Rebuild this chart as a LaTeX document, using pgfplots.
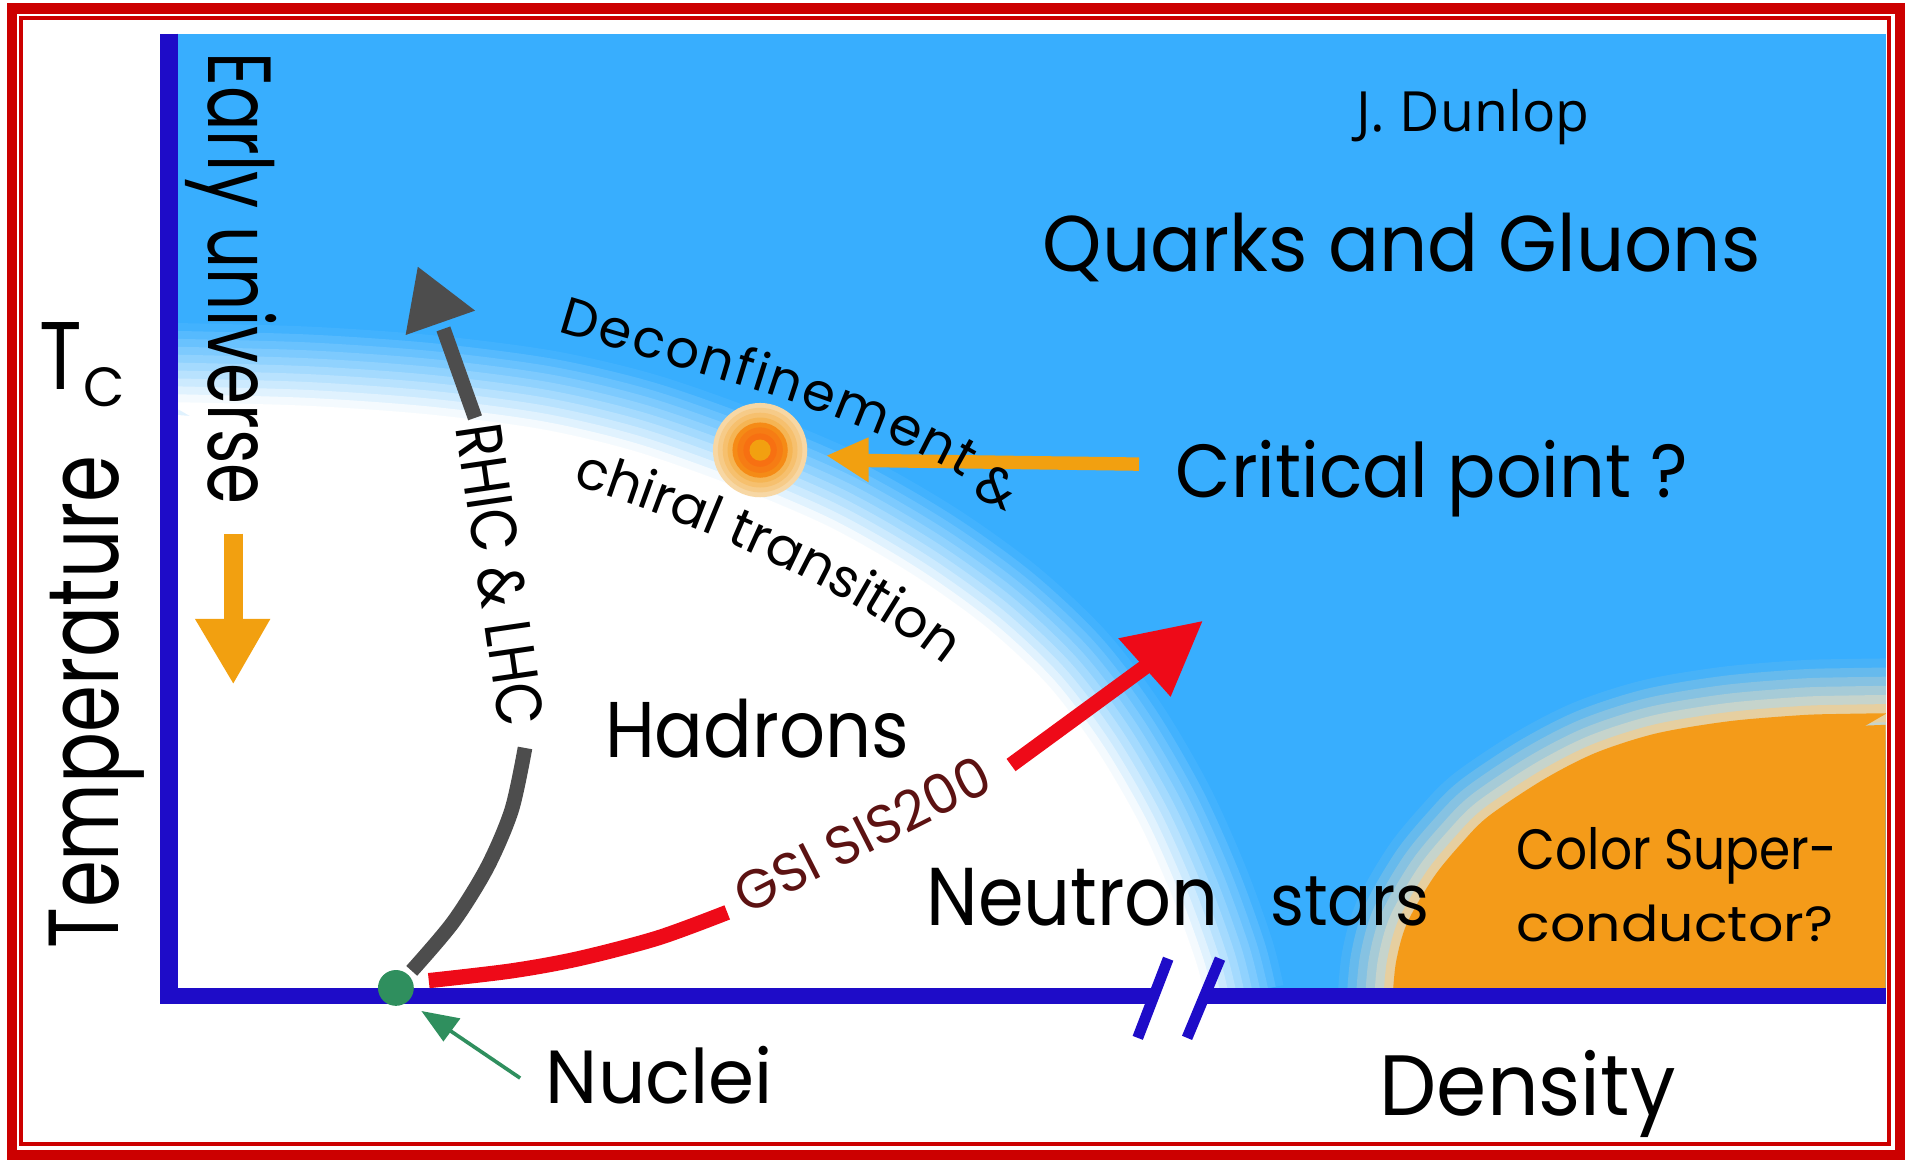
\documentclass[border=0pt]{standalone}
\usepackage{graphicx}
\usepackage{pgfplots}
\usepackage{pgfplotstable}
\pgfplotsset{compat=1.18}
\usepackage{fontspec}
\setmainfont{Poppins}
\newfontfamily\pop{Poppins}
\newfontfamily\osans{Open Sans}
\usetikzlibrary{decorations.text}
\definecolor{skyb}{HTML}{38AEFE}
\definecolor{axb}{HTML}{1E0CC8}
\definecolor{framered}{HTML}{CC0000}
\definecolor{orreg}{HTML}{F49B19}
\definecolor{oarrow}{HTML}{F2A010}
\definecolor{garrow}{HTML}{4D4D4D}
\definecolor{rarrow}{HTML}{EE0A18}
\definecolor{gdot}{HTML}{2F8F5E}
\definecolor{gsired}{HTML}{5C1212}
\definecolor{cream}{HTML}{F7E2BC}
\newcommand{\fit}[3]{\resizebox{#1mm}{#2mm}{\pop #3}}

\pgfplotstableread{
x y
136 330
250 333
350 340
443 352
520 370
600 398
680 432
750 472
810 515
860 562
900 615
935 675
962 735
982 790
990 822
}\Wcurve

\pgfplotstableread{
x y
1143 822
1146 790
1155 758
1177 720
1200 692
1222 670
1267 640
1310 618
1360 602
1420 592
1480 587
1515 586
1549 585.5
}\Ocurve

\begin{document}
\begin{tikzpicture}
\begin{axis}[width=156.8mm, height=95.4mm, scale only axis,
  xmin=0, xmax=1568, ymin=0, ymax=954, y dir=reverse, hide axis, clip=true]

% background and regions
\addplot[fill=white, draw=none] coordinates {(0,0) (1568,0) (1568,954) (0,954)};
\addplot[fill=skyb, draw=none] coordinates {(140,27.5) (1548,27.5) (1548,818) (140,818)};

% colour superconductor region (soft edge, then solid fill)
\addplot[smooth, draw=cream, line width=9.0mm, opacity=0.083] table {\Ocurve};
\addplot[smooth, draw=cream, line width=7.5mm, opacity=0.182] table {\Ocurve};
\addplot[smooth, draw=cream, line width=6.0mm, opacity=0.222] table {\Ocurve};
\addplot[smooth, draw=cream, line width=4.5mm, opacity=0.286] table {\Ocurve};
\addplot[smooth, draw=cream, line width=3.0mm, opacity=0.40] table {\Ocurve};
\addplot[smooth, draw=cream!70!orreg, line width=1.5mm, opacity=0.667] table {\Ocurve};
\addplot[fill=orreg, draw=none] coordinates {(1150,822) (1160,760) (1200,700) (1300,630) (1420,600) (1548,595) (1548,822)};
\addplot[fill=orreg, draw=none, smooth] table {\Ocurve};
\addplot[fill=white, draw=none] coordinates {(1548.3,0) (1568,0) (1568,954) (1548.3,954)};

% hadron region (solid white, then linear soft glow outward)
\addplot[fill=white, draw=none] coordinates {(136,340) (443,362) (680,445) (860,575) (955,740) (985,822) (136,822)};
\addplot[fill=white, draw=none, smooth] table {\Wcurve};
\addplot[smooth, draw=white, line width=13mm, opacity=0.050] table {\Wcurve};
\addplot[smooth, draw=white, line width=11.7mm, opacity=0.105] table {\Wcurve};
\addplot[smooth, draw=white, line width=10.4mm, opacity=0.118] table {\Wcurve};
\addplot[smooth, draw=white, line width=9.1mm, opacity=0.133] table {\Wcurve};
\addplot[smooth, draw=white, line width=7.8mm, opacity=0.154] table {\Wcurve};
\addplot[smooth, draw=white, line width=6.5mm, opacity=0.182] table {\Wcurve};
\addplot[smooth, draw=white, line width=5.2mm, opacity=0.222] table {\Wcurve};
\addplot[smooth, draw=white, line width=3.9mm, opacity=0.286] table {\Wcurve};
\addplot[smooth, draw=white, line width=2.6mm, opacity=0.400] table {\Wcurve};
\addplot[smooth, draw=white, line width=1.3mm, opacity=0.667] table {\Wcurve};

% axes
\addplot[draw=axb, line width=1.45mm] coordinates {(139,27.5) (139,824)};
\addplot[draw=axb, line width=1.3mm] coordinates {(132,817.5) (947,817.5)};
\addplot[draw=axb, line width=1.3mm] coordinates {(989,817.5) (1548.5,817.5)};
\addplot[draw=axb, line width=0.9mm] coordinates {(934,852) (959,787)};
\addplot[draw=axb, line width=0.9mm] coordinates {(974.5,852) (1001.6,787)};

% critical point
\addplot[only marks, mark=*, mark size=3.8mm, color=cream!85!orreg] coordinates {(624,369.5)};
\addplot[only marks, mark=*, mark size=3.4mm, color=cream!68!orreg] coordinates {(624,369.5)};
\addplot[only marks, mark=*, mark size=3.0mm, color=cream!52!orreg] coordinates {(624,369.5)};
\addplot[only marks, mark=*, mark size=2.6mm, color=cream!36!orreg] coordinates {(624,369.5)};
\addplot[only marks, mark=*, mark size=2.2mm, color=orreg!90!red] coordinates {(624,369.5)};
\addplot[only marks, mark=*, mark size=1.8mm, color=orreg!80!red] coordinates {(624,369.5)};
\addplot[only marks, mark=*, mark size=1.3mm, color=orreg!72!red] coordinates {(624,369.5)};
\addplot[only marks, mark=*, mark size=0.8mm, color=oarrow] coordinates {(624,369.5)};

% arrows
\addplot[smooth, draw=garrow, line width=1.2mm] coordinates {(338,797) (372,757) (400,712) (420,665) (431,614)};
\addplot[draw=garrow, line width=1.2mm] coordinates {(390,343) (364,270)};
\addplot[fill=garrow, draw=none] coordinates {(343,219) (333,275) (390,255)};

\addplot[smooth, draw=rarrow, line width=1.25mm] coordinates {(352,805) (420,797) (475,787) (540,770) (597,749)};
\addplot[draw=rarrow, line width=1.25mm] coordinates {(830,628) (942,546)};
\addplot[fill=rarrow, draw=none] coordinates {(987,510) (918,524) (961,572)};

\addplot[draw=oarrow, line width=1.1mm] coordinates {(935,381) (710,378)};
\addplot[fill=oarrow, draw=none] coordinates {(679,374) (713,359) (713,396)};

\addplot[draw=oarrow, line width=1.6mm] coordinates {(191.5,438) (191.5,510)};
\addplot[fill=oarrow, draw=none] coordinates {(191.5,561) (160,508) (222,508)};

\addplot[draw=gdot, line width=0.3mm] coordinates {(427,885) (365,843)};
\addplot[fill=gdot, draw=none] coordinates {(346,830) (378,836) (364,855)};
\addplot[only marks, mark=*, mark size=1.4mm, color=gdot] coordinates {(325,811)};

% frame
\addplot[draw=framered, line width=0.85mm, line cap=rect] coordinates {(9.75,6.9) (1559.5,6.9) (1559.5,948) (9.75,948) (9.75,6.9)};
\addplot[draw=framered, line width=0.3mm, line cap=rect] coordinates {(17,15) (1551,15) (1551,939) (17,939) (17,15)};

% texts
\node[anchor=base west, inner sep=0pt] at (1112.5,107.6) {\resizebox{19.15mm}{3.46mm}{\osans J. Dunlop}};
\node[anchor=base west, inner sep=0pt] at (855.5,223) {\fit{58.9}{4.8}{Quarks and Gluons}};
\node[anchor=base west, inner sep=0pt] at (964.6,408) {\fit{42.04}{4.7}{Critical point ?}};
\node[anchor=base west, inner sep=0pt] at (496,621.5) {\fit{24.96}{4.8}{Hadrons}};
\node[anchor=base west, inner sep=0pt] at (760,759.5) {\fit{24.0}{4.7}{Neutron}};
\node[anchor=base west, inner sep=0pt] at (1042,759.5) {\fit{13.1}{4.0}{stars}};
\node[anchor=base west, inner sep=0pt] at (447.5,905.7) {\fit{18.65}{4.7}{Nuclei}};
\node[anchor=base west, inner sep=0pt] at (1132,915.5) {\fit{24.3}{5.35}{Density}};
\node[anchor=base west, inner sep=0pt] at (1244.6,714) {\fit{26.3}{3.45}{Color Super-}};
\node[anchor=base west, inner sep=0pt] at (1244.6,773) {\fit{25.96}{3.0}{conductor?}};
\node[anchor=base west, inner sep=0pt] at (32,320) {\fit{3.5}{5.5}{T}};
\node[anchor=base west, inner sep=0pt] at (68,334) {\fit{3.4}{3.2}{C}};
\node[rotate=90, anchor=base west, inner sep=0pt] at (97,779.6) {\fit{40.5}{5.7}{Temperature}};
\node[rotate=-90, anchor=base west, inner sep=0pt] at (171,42.5) {\fit{37.1}{5.6}{Early universe}};
\node[rotate=-81.7, anchor=base west, inner sep=0pt] at (374,350) {\fit{25.06}{3.8}{RHIC \& LHC}};
\node[rotate=26.9, anchor=base west, inner sep=0pt, text=gsired] at (612,752) {\fit{22.99}{3.3}{GSI SIS200}};
\node[rotate=-25, inner sep=0pt] at (818,400) {\pop\fontsize{12.3}{14}\selectfont\&};
\path[decorate, decoration={text along path, text={|\pop\fontsize{12.3}{14}\selectfont|Deconfinement}, text align={fit to path}}]
  (458,272) .. controls (568,306) and (692,334) .. (792,392);
\path[decorate, decoration={text along path, text={|\pop\fontsize{12.5}{14}\selectfont|chiral transition}, text align={fit to path}}]
  (470,398) .. controls (570,429) and (688,480) .. (768,540);
\end{axis}
\end{tikzpicture}
\end{document}
